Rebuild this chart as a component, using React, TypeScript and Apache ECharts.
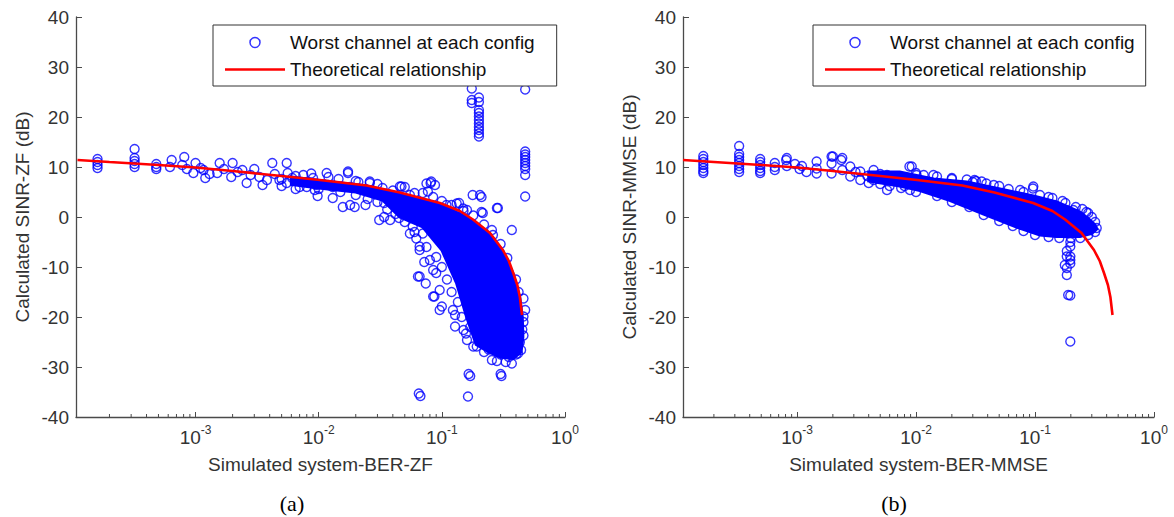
import React, { useEffect, useRef } from 'react';
import * as echarts from 'echarts';

// ---------- data ----------
const X_MIN_ZF = 1.07e-4;
const X_MIN_MMSE = 1.1e-4;

// Theoretical relationship (same curve on both panels)
const THEORY: number[][] = [
  [1.1e-4, 11.4], [2e-4, 11.0], [5e-4, 10.4], [1e-3, 9.9], [2e-3, 9.2], [5e-3, 8.2],
  [0.0102, 7.4], [0.0245, 6.3], [0.0456, 4.9], [0.0964, 2.8], [0.14, 1.2], [0.179, -0.5],
  [0.246, -3.2], [0.313, -6.6], [0.35, -8.8], [0.38, -11.2], [0.41, -13.6], [0.43, -16.0], [0.448, -19.6],
];

// Saturated (overplotted) region of the ZF cloud, as outline vertices
const ZF_DENSE: number[][] = [
  [0.006, 8.0], [0.0102, 7.3], [0.0245, 6.2], [0.0456, 4.7], [0.0964, 2.6], [0.179, -0.7],
  [0.246, -3.4], [0.313, -6.8], [0.38, -11.4], [0.43, -16.2], [0.45, -20], [0.455, -24], [0.44, -27],
  [0.38, -28.3], [0.3, -28.0], [0.24, -27], [0.19, -25.5], [0.159, -20], [0.132, -13.3],
  [0.1, -6.6], [0.07, -2], [0.0456, 0], [0.033, 3.4], [0.02, 5.0], [0.01, 5.8], [0.006, 6.5],
];

const ZF_POINTS: number[][] = [
  [1.6e-4, 11.6], [1.6e-4, 11.0], [1.6e-4, 10.4], [1.6e-4, 9.8],
  [3.2e-4, 13.6], [3.2e-4, 11.8], [3.2e-4, 11.2], [3.2e-4, 10.6], [3.2e-4, 10.0],
  [4.8e-4, 10.6], [4.8e-4, 10.0], [4.8e-4, 9.6],
  [6.2e-4, 10.0], [6.4e-4, 11.4], [7.8e-4, 10.4], [8.1e-4, 12.0], [8.5e-4, 9.6],
  [9.6e-4, 8.8], [1.0e-3, 10.8], [1.1e-3, 9.8], [1.16e-3, 9.4], [1.2e-3, 7.8], [1.3e-3, 8.6],
  [1.5e-3, 8.8], [1.57e-3, 10.8], [1.7e-3, 9.6], [1.95e-3, 8.0], [2.0e-3, 10.8], [2.2e-3, 9.0],
  [2.4e-3, 9.4], [2.6e-3, 6.8], [2.8e-3, 8.4], [3.0e-3, 9.6], [3.3e-3, 8.0], [3.5e-3, 6.4], [3.8e-3, 7.4],
  [4.2e-3, 10.8], [4.4e-3, 8.6], [4.8e-3, 7.4], [5.0e-3, 6.2], [5.5e-3, 10.8], [5.6e-3, 8.8],
  [6.1e-3, 7.8], [6.5e-3, 5.6], [7.0e-3, 6.0], [7.5e-3, 8.4], [8.0e-3, 7.0], [8.5e-3, 6.8],
  [8.7e-3, 8.7], [9.3e-3, 5.4], [9.8e-3, 4.2],
  [0.005, 7.6], [0.0055, 6.8], [0.0065, 8.2], [0.009, 7.8], [0.0095, 6.4],
  [0.0116, 8.8], [0.012, 6.4], [0.013, 3.8], [0.013, 6.0], [0.0145, 7.6], [0.0157, 2.0],
  [0.0173, 8.8], [0.0173, 9.1], [0.018, 6.0], [0.018, 2.4], [0.0196, 2.0], [0.021, 7.0],
  [0.024, 2.4], [0.026, 7.1], [0.026, 6.8], [0.029, 4.6], [0.031, -0.6], [0.033, 5.8],
  [0.034, 2.8], [0.034, 0.0], [0.038, -0.6], [0.04, 5.3], [0.045, -0.2], [0.0456, 6.1],
  [0.047, 6.1], [0.05, 6.0], [0.055, 4.4],
  [0.07, 4.8], [0.075, 6.7], [0.077, 5.1], [0.081, 6.8], [0.082, 7.1], [0.088, 6.4], [0.085, 4.0],
  [0.109, 2.4], [0.132, 2.7], [0.138, 2.8], [0.149, 1.7], [0.16, 1.4], [0.178, 4.4], [0.204, 4.4],
  [0.21, 4.0], [0.21, 1.0], [0.215, 0.8], [0.255, -2.6], [0.28, 1.8], [0.285, 1.8], [0.37, -2.6],
  [0.475, 25.5], [0.475, 13.1], [0.475, 12.5], [0.475, 12.0], [0.475, 11.4], [0.475, 10.8],
  [0.475, 10.2], [0.475, 9.6], [0.475, 8.4], [0.475, 4.1],
  [0.175, 25.7], [0.175, 23.4], [0.175, 22.8], [0.2, 23.9], [0.2, 23.0], [0.2, 21.4], [0.2, 20.8],
  [0.2, 20.1], [0.2, 19.4], [0.2, 18.7], [0.2, 18.0], [0.2, 17.4], [0.2, 16.7], [0.2, 16.1],
  [0.055, -3.3], [0.058, -1.9], [0.062, -4.3], [0.064, -11.9], [0.066, -5.9], [0.066, -6.6],
  [0.066, -11.9], [0.07, -3.3], [0.072, -9.0], [0.074, -13.3], [0.08, -8.6], [0.085, -10.6],
  [0.085, -15.9], [0.087, -15.9], [0.09, -11.2], [0.096, -14.6], [0.096, -18.6], [0.1, -17.9],
  [0.123, -18.6], [0.128, -19.6], [0.128, -21.9], [0.15, -22.6], [0.157, -23.3], [0.16, -24.6],
  [0.18, -25.9], [0.192, -25.9], [0.22, -27.0], [0.255, -28.6], [0.28, -28.8], [0.33, -29.0],
  [0.37, -29.3], [0.415, -27.3], [0.415, -25.5], [0.46, -23.7], [0.46, -16.3], [0.475, -18.6],
  [0.44, -26.6], [0.46, -19.9],
  [0.065, -35.3], [0.067, -35.8], [0.163, -35.9], [0.165, -31.4], [0.17, -31.8], [0.3, -31.4], [0.305, -31.8],
  [0.03, 3.0], [0.036, 1.5], [0.042, 0.6], [0.05, -1.0], [0.06, -3.0], [0.075, -6.0], [0.09, -8.0],
  [0.1, -10], [0.11, -12.5], [0.12, -15], [0.135, -17], [0.145, -20], [0.17, -22], [0.2, -24],
  [0.24, -26.5], [0.3, -27.5], [0.35, -28.0], [0.4, -27.5], [0.43, -25], [0.45, -22.5], [0.46, -21],
  [0.008, 6.0], [0.01, 5.6], [0.015, 5.0], [0.02, 4.4], [0.025, 3.6],
  [0.012, 8.0], [0.02, 7.2], [0.03, 6.6], [0.06, 4.8], [0.1, 3.2], [0.12, 2.4], [0.15, 1.2],
  [0.18, 0.3], [0.22, -1.5], [0.26, -3.6], [0.3, -5.4], [0.34, -8.2], [0.4, -12.5], [0.42, -15],
];

// Saturated region of the MMSE cloud
const MMSE_DENSE: number[][] = [
  [0.004, 9.0], [0.0073, 9.0], [0.014, 7.6], [0.0267, 7.0], [0.0508, 5.6], [0.0968, 4.2],
  [0.152, 3.0], [0.239, 1.0], [0.285, -0.5], [0.32, -1.6], [0.33, -2.4], [0.3, -3.3], [0.239, -3.9],
  [0.152, -3.9], [0.11, -3.6], [0.07, -2.0], [0.037, 0.6], [0.0194, 3.3], [0.0108, 5.3],
  [0.0073, 6.2], [0.004, 7.2],
];

const MMSE_POINTS: number[][] = [
  [1.63e-4, 12.2], [1.63e-4, 11.6], [1.63e-4, 11.0], [1.63e-4, 10.4], [1.63e-4, 9.8], [1.63e-4, 9.2], [1.63e-4, 8.8],
  [3.26e-4, 14.2], [3.26e-4, 12.6], [3.26e-4, 12.0], [3.26e-4, 11.4], [3.26e-4, 10.8], [3.26e-4, 10.2],
  [3.26e-4, 9.6], [3.26e-4, 9.0],
  [4.9e-4, 11.6], [4.9e-4, 11.0], [4.9e-4, 10.4], [4.9e-4, 9.8], [4.9e-4, 9.2], [4.9e-4, 8.8],
  [6.5e-4, 10.8], [6.5e-4, 10.0], [6.5e-4, 9.4],
  [8.2e-4, 11.8], [8.2e-4, 10.2], [8.1e-4, 11.4],
  [9.6e-4, 10.6], [1.05e-3, 9.6], [1.2e-3, 9.0], [1.1e-3, 10.2],
  [1.46e-3, 11.1], [1.46e-3, 9.7], [1.46e-3, 8.7],
  [1.95e-3, 12.1], [1.95e-3, 10.7], [1.95e-3, 8.7], [2.0e-3, 12.1], [2.35e-3, 11.4],
  [2.4e-3, 11.8], [2.4e-3, 9.4], [2.8e-3, 10.1], [2.8e-3, 8.1], [3.1e-3, 9.0],
  [3.4e-3, 9.1], [3.4e-3, 7.4], [3.9e-3, 8.2], [4.4e-3, 9.4], [4.4e-3, 7.4], [5.0e-3, 8.6], [5.0e-3, 6.6],
  [5.7e-3, 8.4], [5.7e-3, 5.4], [6.4e-3, 7.4], [7.0e-3, 8.0], [8.0e-3, 6.2], [8.8e-3, 10.1],
  [8.9e-3, 6.7], [8.9e-3, 5.4], [0.0092, 10.1], [0.0101, 8.4],
  [0.0116, 8.4], [0.015, 8.1], [0.0267, 7.5], [0.031, 7.4], [0.0319, 7.2], [0.0356, 7.1],
  [0.039, 6.7], [0.075, 5.4], [0.096, 5.7], [0.0968, 6.1], [0.21, 1.4], [0.13, 4.0], [0.17, 3.2],
  [0.05, 6.2], [0.02, 7.8],
  [0.198, -5.0], [0.198, -5.9], [0.185, -6.8], [0.198, -7.9], [0.185, -7.9], [0.198, -8.6],
  [0.178, -9.6], [0.198, -9.3], [0.185, -10.2], [0.185, -11.6], [0.19, -15.6], [0.198, -15.7], [0.198, -24.9],
  [0.01, 5.0], [0.015, 4.2], [0.02, 3.0], [0.028, 2.0], [0.037, 0.4], [0.05, -0.8], [0.065, -1.8],
  [0.08, -2.8], [0.1, -3.6], [0.13, -4.0], [0.16, -4.2], [0.2, -4.2], [0.24, -4.2], [0.28, -3.6],
  [0.32, -3.0], [0.33, -2.2], [0.32, -1.0], [0.3, 0.0], [0.27, 1.0],
  [0.01, 8.8], [0.014, 8.4], [0.02, 7.6], [0.03, 7.0], [0.045, 6.4], [0.06, 5.6], [0.08, 5.0],
  [0.11, 4.4], [0.14, 3.8], [0.18, 2.8], [0.22, 2.0], [0.25, 1.6], [0.28, 0.8],
  [0.004, 6.8], [0.006, 6.2], [0.0075, 5.8],
];

// Minor tick positions on the log x axes
const MINOR_TICKS: number[] = [
  2e-4, 3e-4, 4e-4, 5e-4, 6e-4, 7e-4, 8e-4, 9e-4,
  2e-3, 3e-3, 4e-3, 5e-3, 6e-3, 7e-3, 8e-3, 9e-3,
  2e-2, 3e-2, 4e-2, 5e-2, 6e-2, 7e-2, 8e-2, 9e-2,
  0.2, 0.3, 0.4, 0.5, 0.6, 0.7, 0.8, 0.9,
];

const SCATTER_NAME = 'Worst channel at each config';
const THEORY_NAME = 'Theoretical relationship';

// ---------- styling ----------
const FONT = 'Liberation Sans, Arial, Helvetica, sans-serif';
const TEXT = '#333333';
const AXIS = '#4a4a4a';
const BLUE = '#0000ff';
const RED = '#ff0000';
const FS = 19;

function xAxisFor(gridIndex: number, min: number, name: string) {
  return {
    gridIndex,
    type: 'log',
    logBase: 10,
    min,
    max: 1,
    name,
    nameLocation: 'middle',
    nameGap: 38,
    nameTextStyle: { fontSize: FS, color: TEXT, fontFamily: FONT },
    axisLine: { show: true, onZero: false, lineStyle: { color: AXIS, width: 1.3 } },
    axisTick: { show: true, inside: true, length: 5, lineStyle: { color: AXIS, width: 1 } },
    splitLine: { show: false },
    minorTick: { show: false },
    axisLabel: {
      margin: 7,
      color: TEXT,
      fontFamily: FONT,
      formatter: (v: number) => {
        const l = Math.log10(v);
        const e = Math.round(l);
        if (Math.abs(l - e) > 1e-6) return '';
        return '{b|10}{s|' + e + '}';
      },
      rich: {
        b: { fontSize: FS, color: TEXT, fontFamily: FONT },
        s: { fontSize: 12, color: TEXT, fontFamily: FONT, padding: [0, 0, 14, 0] },
      },
    },
  };
}

function yAxisFor(gridIndex: number, name: string) {
  return {
    gridIndex,
    type: 'value',
    min: -40,
    max: 40,
    interval: 10,
    name,
    nameLocation: 'middle',
    nameGap: 44,
    nameTextStyle: { fontSize: FS, color: TEXT, fontFamily: FONT },
    axisLine: { show: true, onZero: false, lineStyle: { color: AXIS, width: 1.3 } },
    axisTick: { show: true, inside: true, length: 6, lineStyle: { color: AXIS, width: 1 } },
    splitLine: { show: false },
    axisLabel: { margin: 7, fontSize: FS, color: TEXT, fontFamily: FONT },
  };
}

function polygonRender(verts: number[][]) {
  return (params: any, api: any) => {
    if (params.dataIndex !== 0) return null;
    return {
      type: 'polygon',
      shape: { points: verts.map((v) => api.coord(v)) },
      style: { fill: BLUE, stroke: BLUE, lineWidth: 3 },
    };
  };
}

function minorTickRender(params: any, api: any) {
  const p = api.coord([api.value(0), api.value(1)]);
  return {
    type: 'line',
    shape: { x1: p[0], y1: p[1], x2: p[0], y2: p[1] - 3 },
    style: { stroke: AXIS, lineWidth: 1 },
  };
}

function panelSeries(idx: number, dense: number[][], points: number[][], xmin: number) {
  return [
    {
      type: 'custom',
      name: 'dense-' + idx,
      xAxisIndex: idx,
      yAxisIndex: idx,
      data: dense,
      renderItem: polygonRender(dense),
      silent: true,
      z: 1,
    },
    {
      type: 'scatter',
      name: SCATTER_NAME,
      xAxisIndex: idx,
      yAxisIndex: idx,
      data: points,
      symbol: 'circle',
      symbolSize: 9,
      itemStyle: { color: 'rgba(0,0,0,0)', borderColor: BLUE, borderWidth: 1.4 },
      silent: true,
      z: 2,
    },
    {
      type: 'line',
      name: THEORY_NAME,
      xAxisIndex: idx,
      yAxisIndex: idx,
      data: THEORY.filter((p) => p[0] >= xmin),
      symbol: 'none',
      showSymbol: false,
      lineStyle: { color: RED, width: 2.6 },
      itemStyle: { color: RED },
      silent: true,
      z: 3,
    },
    {
      type: 'custom',
      name: 'minor-' + idx,
      xAxisIndex: idx,
      yAxisIndex: idx,
      data: MINOR_TICKS.filter((t) => t > xmin).map((t) => [t, -40]),
      renderItem: minorTickRender,
      silent: true,
      clip: false,
      z: 4,
    },
  ];
}

function legendFor(left: number, padRight: number) {
  return {
    orient: 'vertical',
    left,
    top: 25,
    padding: [8, padRight, 7, 12],
    itemGap: 8,
    itemWidth: 60,
    itemHeight: 10,
    backgroundColor: '#ffffff',
    borderColor: '#333333',
    borderWidth: 1,
    selectedMode: false,
    textStyle: { fontSize: FS, color: '#111111', fontFamily: FONT },
    data: [
      {
        name: SCATTER_NAME,
        icon: 'circle',
        itemStyle: { color: 'rgba(0,0,0,0)', borderColor: BLUE, borderWidth: 1.5 },
      },
      {
        name: THEORY_NAME,
        icon: 'path://M0,0L60,0L60,2.6L0,2.6Z',
        itemStyle: { color: RED, borderWidth: 0 },
      },
    ],
  };
}

export default function App() {
  const ref = useRef<HTMLDivElement>(null);
  useEffect(() => {
    if (!ref.current) return;
    const chart = echarts.init(ref.current, null, { renderer: 'svg' });
    const option: any = {
      animation: false,
      backgroundColor: '#ffffff',
      grid: [
        { left: 76, right: 609, top: 17, bottom: 100 },
        { left: 683, right: 20, top: 17, bottom: 100 },
      ],
      xAxis: [
        xAxisFor(0, X_MIN_ZF, 'Simulated system-BER-ZF'),
        xAxisFor(1, X_MIN_MMSE, 'Simulated system-BER-MMSE'),
      ],
      yAxis: [
        yAxisFor(0, 'Calculated SINR-ZF (dB)'),
        yAxisFor(1, 'Calculated SINR-MMSE (dB)'),
      ],
      legend: [legendFor(213, 22), legendFor(813, 11)],
      series: [
        ...panelSeries(0, ZF_DENSE, ZF_POINTS, X_MIN_ZF),
        ...panelSeries(1, MMSE_DENSE, MMSE_POINTS, X_MIN_MMSE),
      ],
      graphic: [
        {
          type: 'text',
          x: 292,
          y: 503,
          style: { text: '(a)', font: '22px "Liberation Serif", "Times New Roman", serif', fill: '#000', align: 'center', verticalAlign: 'middle' },
        },
        {
          type: 'text',
          x: 894,
          y: 503,
          style: { text: '(b)', font: '22px "Liberation Serif", "Times New Roman", serif', fill: '#000', align: 'center', verticalAlign: 'middle' },
        },
      ],
    };
    chart.setOption(option);
    return () => chart.dispose();
  }, []);
  return (
    <div
      ref={ref}
      style={{ position: 'absolute', left: 0, top: 0, width: 1174, height: 517, background: '#ffffff' }}
    />
  );
}
